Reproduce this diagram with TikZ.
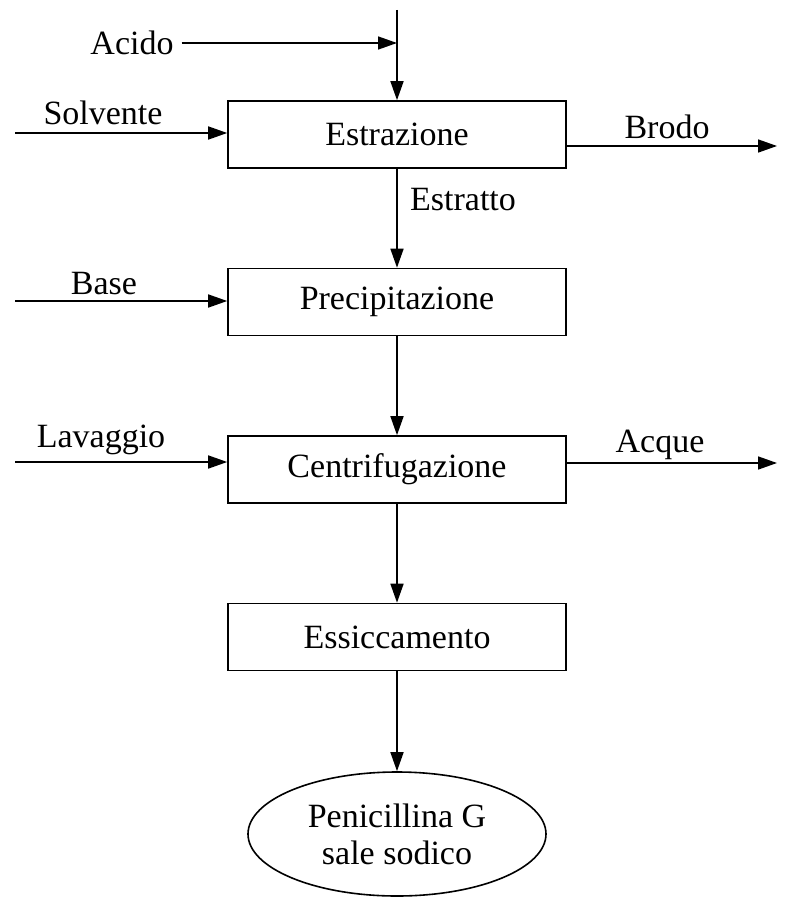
\documentclass[tikz,border=0pt]{standalone}
\usepackage{fontspec}
\setmainfont{Liberation Serif}
\usetikzlibrary{arrows.meta,shapes.geometric}
\begin{document}
\begin{tikzpicture}[x=1pt,y=-1pt,
  every node/.style={font=\fontsize{34}{37}\selectfont},
  box/.style={draw,line width=1.6pt,minimum width=338pt,minimum height=67pt,inner sep=0pt},
  lbl/.style={inner sep=0pt},
  flow/.style={line width=1.6pt,-{Triangle[length=19pt,width=13pt]}},
  line/.style={line width=1.6pt}]
\useasboundingbox (0,0) rectangle (785,899);
\node[box] (estr) at (397,134.5) {Estrazione};
\node[box] (prec) at (397,302) {Precipitazione};
\node[box] (cent) at (397,469.5) {Centrifugazione};
\node[box] (essi) at (397,637) {Essiccamento};
\node[draw,ellipse,line width=1.6pt,minimum width=298pt,minimum height=124pt,inner sep=0pt,align=center] (peni) at (397,834) {Penicillina G\\sale sodico};
% top feed
\coordinate (top) at (397,10);
\coordinate (junc) at (397,43);
\draw[flow] (top) -- (estr.north);
\node[lbl] (acido) at (132,43) {Acido};
\draw[flow] (acido.east) ++(8,0) coordinate (acs) -- (junc);
% solvente
\coordinate (solS) at (15,133);
\draw[flow] (solS) -- (estr.west |- solS);
\node[lbl] (solv) at (103,113) {Solvente};
% brodo
\coordinate (broE) at (777,146);
\draw[flow] (estr.east |- broE) -- (broE);
\node[lbl] (brodo) at (667,127) {Brodo};
% estratto
\draw[flow] (estr.south) -- (prec.north);
\node[lbl] (estratto) at (463,200) {Estratto};
% base
\coordinate (basS) at (15,301);
\draw[flow] (basS) -- (prec.west |- basS);
\node[lbl] (base) at (104,284) {Base};
% centrif
\draw[flow] (prec.south) -- (cent.north);
\coordinate (lavS) at (15,462);
\draw[flow] (lavS) -- (cent.west |- lavS);
\node[lbl] (lav) at (101,440) {Lavaggio};
\coordinate (acqE) at (777,463);
\draw[flow] (cent.east |- acqE) -- (acqE);
\node[lbl] (acque) at (660,445) {Acque};
\draw[flow] (cent.south) -- (essi.north);
\draw[flow] (essi.south) -- (peni.north);
\end{tikzpicture}
\end{document}
